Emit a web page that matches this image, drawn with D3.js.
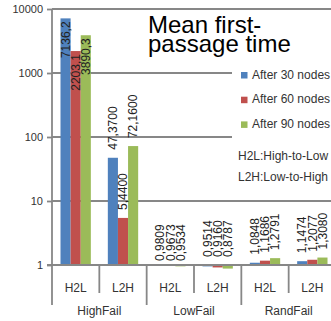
<!DOCTYPE html>
<html><head><meta charset="utf-8">
<script src="https://cdn.jsdelivr.net/npm/d3@7"></script>
<style>
html,body{margin:0;padding:0;background:#fff;overflow:hidden}
text{font-family:"Liberation Sans",Arial,sans-serif}
</style></head>
<body>
<svg id="chart" width="331" height="321"></svg>
<script>
// ---- data ----
const categories = ["H2L","L2H","H2L","L2H","H2L","L2H"];
const groups = ["HighFail","LowFail","RandFail"];
const seriesNames = ["After 30 nodes","After 60 nodes","After 90 nodes"];
const after30 = [7136.2, 47.37, 0.9809, 0.9514, 1.0848, 1.1474];
const after60 = [2203.1, 5.44, 0.9673, 0.9160, 1.1686, 1.2077];
const after90 = [3890.3, 72.16, 0.9534, 0.8787, 1.2791, 1.3080];
const yTicks = [1, 10, 100, 1000, 10000];
const titleLines = ["Mean first-", "passage time"];
const notes = ["H2L:High-to-Low", "L2H:Low-to-High"];
const colors = ["#4F81BD", "#C0504D", "#9BBB59"];

const series = [after30, after60, after90];
const svg = d3.select("#chart");
const gridColor = "#878787";

const y = d3.scaleLog().domain([1, 10000]).range([265, 9]);
const x0 = d3.scaleBand().domain(d3.range(categories.length)).range([52, 336]);
const x1 = d3.scaleBand().domain(d3.range(series.length)).range([0, x0.bandwidth()])
  .paddingInner(0).paddingOuter(0.84);

const loc = d3.formatLocale({decimal: ",", thousands: ".", grouping: [3], currency: ["", ""]});
const fmt = v => v >= 1000 ? loc.format(".1f")(v) : loc.format(".4f")(v);

// gridlines
svg.append("g").selectAll("line").data(yTicks.slice(1)).join("line")
  .attr("x1", 52).attr("x2", 336)
  .attr("y1", d => y(d)).attr("y2", d => y(d))
  .attr("stroke", gridColor).attr("stroke-width", 1.8);

// y axis
const yAxis = d3.axisLeft(y).tickValues(yTicks).tickFormat(d3.format("d")).tickSize(5).tickPadding(4);
const gy = svg.append("g").attr("transform", "translate(52,0)").call(yAxis);
gy.select(".domain").remove();
gy.selectAll(".tick line").attr("stroke", gridColor).attr("stroke-width", 1.8);
gy.selectAll(".tick text").attr("font-family", "Liberation Sans, Arial, sans-serif")
  .attr("font-size", 11).attr("fill", "#333");

// bars
const bars = svg.append("g");
categories.forEach((c, i) => {
  series.forEach((s, k) => {
    const v = s[i];
    const yv = y(v), y1 = y(1);
    bars.append("rect")
      .attr("x", x0(i) + x1(k)).attr("width", x1.bandwidth())
      .attr("y", Math.min(yv, y1)).attr("height", Math.max(Math.abs(y1 - yv), 0.8))
      .attr("fill", colors[k]);
  });
});

// legend white box
svg.append("rect").attr("x", 232).attr("y", 60).attr("width", 100).attr("height", 130).attr("fill", "#fff");

// data labels
const labels = svg.append("g");
categories.forEach((c, i) => {
  series.forEach((s, k) => {
    const v = s[i];
    const cx = x0(i) + x1(k) + x1.bandwidth() / 2;
    const t = labels.append("text")
      .attr("font-size", 12).attr("fill", "#222").attr("dy", "0.35em")
      .text(fmt(v));
    let ay, anchor;
    if (v >= 1000) { ay = y(v) + 3; anchor = "end"; }
    else if (v >= 1) { ay = y(v) - 8; anchor = "start"; }
    else { ay = y(1) - (i % 2 === 0 ? 4 : 8); anchor = "start"; }
    t.attr("text-anchor", anchor).attr("transform", `translate(${cx},${ay}) rotate(-90)`);
  });
});

// x axis structure
svg.append("line").attr("x1", 47).attr("x2", 336).attr("y1", y(1)).attr("y2", y(1))
  .attr("stroke", gridColor).attr("stroke-width", 1.8);
svg.append("line").attr("x1", 52).attr("x2", 52).attr("y1", 9).attr("y2", 305)
  .attr("stroke", gridColor).attr("stroke-width", 1.8);
d3.range(1, categories.length + 1).forEach(i => {
  const xx = 52 + i * x0.step();
  svg.append("line").attr("x1", xx).attr("x2", xx).attr("y1", y(1))
    .attr("y2", i % 2 === 0 ? 305 : 293)
    .attr("stroke", gridColor).attr("stroke-width", 1.8);
});
svg.append("g").selectAll("text").data(categories).join("text")
  .attr("x", (d, i) => x0(i) + x0.bandwidth() / 2).attr("y", 292)
  .attr("text-anchor", "middle").attr("font-size", 12).attr("fill", "#333").text(d => d);
svg.append("g").selectAll("text").data(groups).join("text")
  .attr("x", (d, i) => x0(i * 2) + x0.step()).attr("y", 315)
  .attr("text-anchor", "middle").attr("font-size", 12).attr("fill", "#333").text(d => d);

// title (one text, two lines)
const title = svg.append("text").attr("x", 148).attr("y", 33)
  .attr("font-size", 24).attr("fill", "#000");
title.selectAll("tspan").data(titleLines).join("tspan")
  .attr("x", 148).attr("dy", (d, i) => i === 0 ? 0 : 19).text(d => d);

// legend
const lg = svg.append("g");
seriesNames.forEach((n, k) => {
  lg.append("rect").attr("x", 241).attr("y", 72 + k * 24.7).attr("width", 6.5).attr("height", 6.5).attr("fill", colors[k]);
  lg.append("text").attr("x", 252).attr("y", 78.5 + k * 24.7).attr("font-size", 12).attr("fill", "#333").text(n);
});
lg.selectAll(".note").data(notes).join("text").attr("class", "note")
  .attr("x", 238).attr("y", (d, i) => 160 + i * 21).attr("font-size", 12).attr("fill", "#333").text(d => d);
</script>
</body></html>
